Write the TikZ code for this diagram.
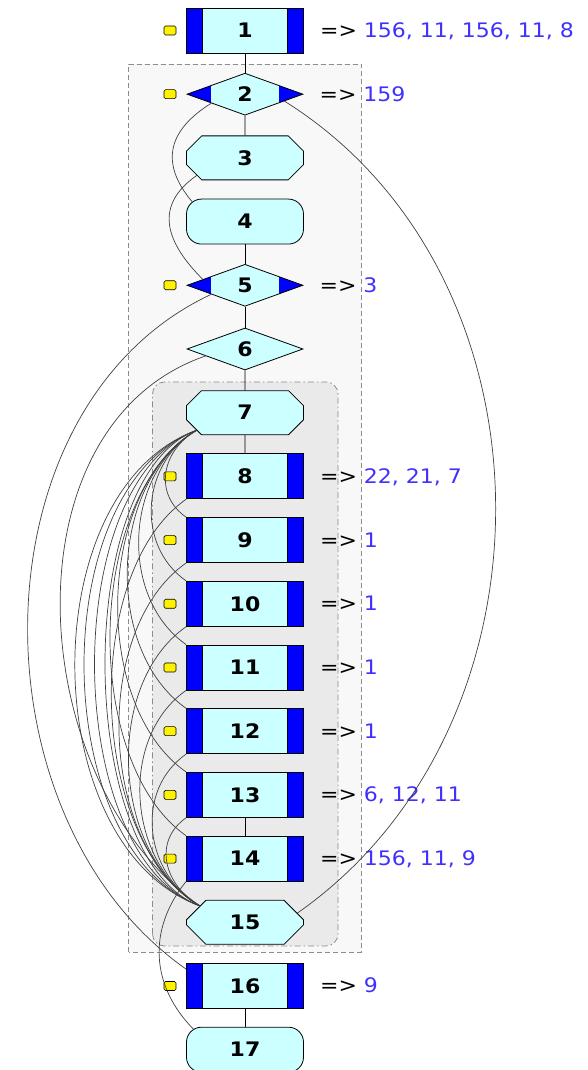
\documentclass[tikz,border=0pt]{standalone}
\usepackage{fontspec}
\setmainfont{DejaVu Sans}
\newfontfamily\fcfont{DejaVu Sans}[FakeStretch=1.1]
\usetikzlibrary{positioning, shapes.geometric, shapes.misc, calc}
\definecolor{fcCyan}{HTML}{CCFFFF}
\definecolor{fcBlue}{HTML}{0000FF}
\definecolor{fcNum}{HTML}{4030FF}
\definecolor{fcOuter}{HTML}{F8F8F8}
\definecolor{fcInner}{HTML}{EAEAEA}
\definecolor{fcFrame}{HTML}{8C8C8C}
\tikzset{
  fcnode/.style={
    draw, fill=fcCyan, minimum width=117pt, minimum height=45pt, inner sep=0pt,
    line width=0.8pt, font=\fcfont\bfseries\fontsize{20}{20}\selectfont
  },
  stmt/.style={fcnode, path picture={
      \fill[fcBlue] (path picture bounding box.north west) rectangle ([xshift=16pt]path picture bounding box.south west);
      \fill[fcBlue] (path picture bounding box.north east) rectangle ([xshift=-16pt]path picture bounding box.south east);
      \draw[line width=0.8pt] ([xshift=16pt]path picture bounding box.north west) -- ([xshift=16pt]path picture bounding box.south west)
        ([xshift=-16pt]path picture bounding box.north east) -- ([xshift=-16pt]path picture bounding box.south east);
    }},
  cond/.style={fcnode, diamond, aspect=2.76, minimum width=116pt, minimum height=42pt},
  condtip/.style={cond, path picture={
      \fill[fcBlue] (path picture bounding box.north west) rectangle ([xshift=24pt]path picture bounding box.south west);
      \fill[fcBlue] (path picture bounding box.north east) rectangle ([xshift=-24pt]path picture bounding box.south east);
    }},
  loopnode/.style={fcnode, chamfered rectangle, chamfered rectangle xsep=13pt, chamfered rectangle ysep=12pt, minimum height=44pt},
  termnode/.style={fcnode, rounded corners=15pt},
  flag/.style={draw, fill=yellow, minimum width=12pt, minimum height=9pt, inner sep=0pt, rounded corners=1.5pt, line width=0.6pt},
  jump/.style={anchor=base west, inner sep=0pt, font=\fcfont\fontsize{20}{24}\selectfont},
  zone/.style={draw=fcFrame, fill=fcOuter, line width=0.8pt, dash pattern=on 5pt off 3pt},
  subzone/.style={draw=fcFrame, fill=fcInner, line width=0.8pt, rounded corners=12pt, dash pattern=on 6pt off 3pt on 1.5pt off 3pt},
  stem/.style={line width=0.9pt, black},
  back/.style={draw=black!75, line width=0.7pt}
}
\begin{document}
\begin{tikzpicture}[x=1pt, y=1pt, node distance=63.7pt, on grid]
  \useasboundingbox (0,0) rectangle (588,1070);
  % frames
  \draw[zone] (128.5,118) rectangle (361,1006);
  \draw[subzone] (152.5,124) rectangle (338,688);
  % nodes
  \node[stmt] (n1) at (245,1039.5) {1};
  \node[condtip, below=of n1] (n2) {2};
  \node[loopnode, below=of n2] (n3) {3};
  \node[termnode, below=of n3] (n4) {4};
  \node[condtip, below=of n4] (n5) {5};
  \node[cond, below=of n5] (n6) {6};
  \node[loopnode, below=of n6] (n7) {7};
  \node[stmt, below=of n7] (n8) {8};
  \node[stmt, below=of n8] (n9) {9};
  \node[stmt, below=of n9] (n10) {10};
  \node[stmt, below=of n10] (n11) {11};
  \node[stmt, below=of n11] (n12) {12};
  \node[stmt, below=of n12] (n13) {13};
  \node[stmt, below=of n13] (n14) {14};
  \node[loopnode, below=of n14] (n15) {15};
  \node[stmt, below=of n15] (n16) {16};
  \node[termnode, below=of n16] (n17) {17};
  \foreach \k in {1,2,5,8,9,10,11,12,13,14,16}
    \node[flag, left=75pt of n\k] (f\k) {};
  \foreach \k/\t in {1/{156, 11, 156, 11, 8}, 2/159, 5/3, 8/{22, 21, 7}, 9/1, 10/1, 11/1, 12/1, 13/{6, 12, 11}, 14/{156, 11, 9}, 16/9}
    \node[jump] (j\k) at ([xshift=16pt, yshift=-7pt]n\k.east) {=> \textcolor{fcNum}{\t}};
  % straight links
  \foreach \a/\b in {1/2, 2/3, 4/5, 5/6, 6/7, 7/8, 13/14, 16/17}
    \draw[stem] (n\a) -- (n\b);
  % arcs
  \draw[back] (n2.195) to[out=212, in=130, looseness=1.3] ([shift={(6pt,-3pt)}]n4.north west);
  \draw[back] (n3.200) to[out=215, in=135, looseness=1.3] (n5.172);
  \draw[back] (n5.195) to[out=205, in=145] ([yshift=-6pt]n16.north west);
  \draw[back] (n6.190) to[out=199, in=145] (n15.160);
  \foreach \l in {0.94, 0.87, 0.79, 0.71}
    \draw[back] (n7.200) to[out=200, in=160, looseness=\l] (n15.160);
  \foreach \k/\l in {9/1.18, 10/1.07, 11/0.99, 12/0.93, 13/0.87, 14/0.81}
    \draw[back] (n7.200) to[out=210, in=145, looseness=\l] (n\k.north west);
  \foreach \k/\l in {8/0.81, 9/0.87, 10/0.93, 11/0.99, 12/1.07, 13/1.18}
    \draw[back] (n\k.south west) to[out=215, in=150, looseness=\l] (n15.160);
  \draw[back] (n2.-10) to[out=-32, in=35, looseness=1.03] (n15.10);
  \draw[back] (n14.south west) to[out=231, in=135, looseness=1.06] ([shift={(8pt,-3pt)}]n17.north west);
\end{tikzpicture}
\end{document}
